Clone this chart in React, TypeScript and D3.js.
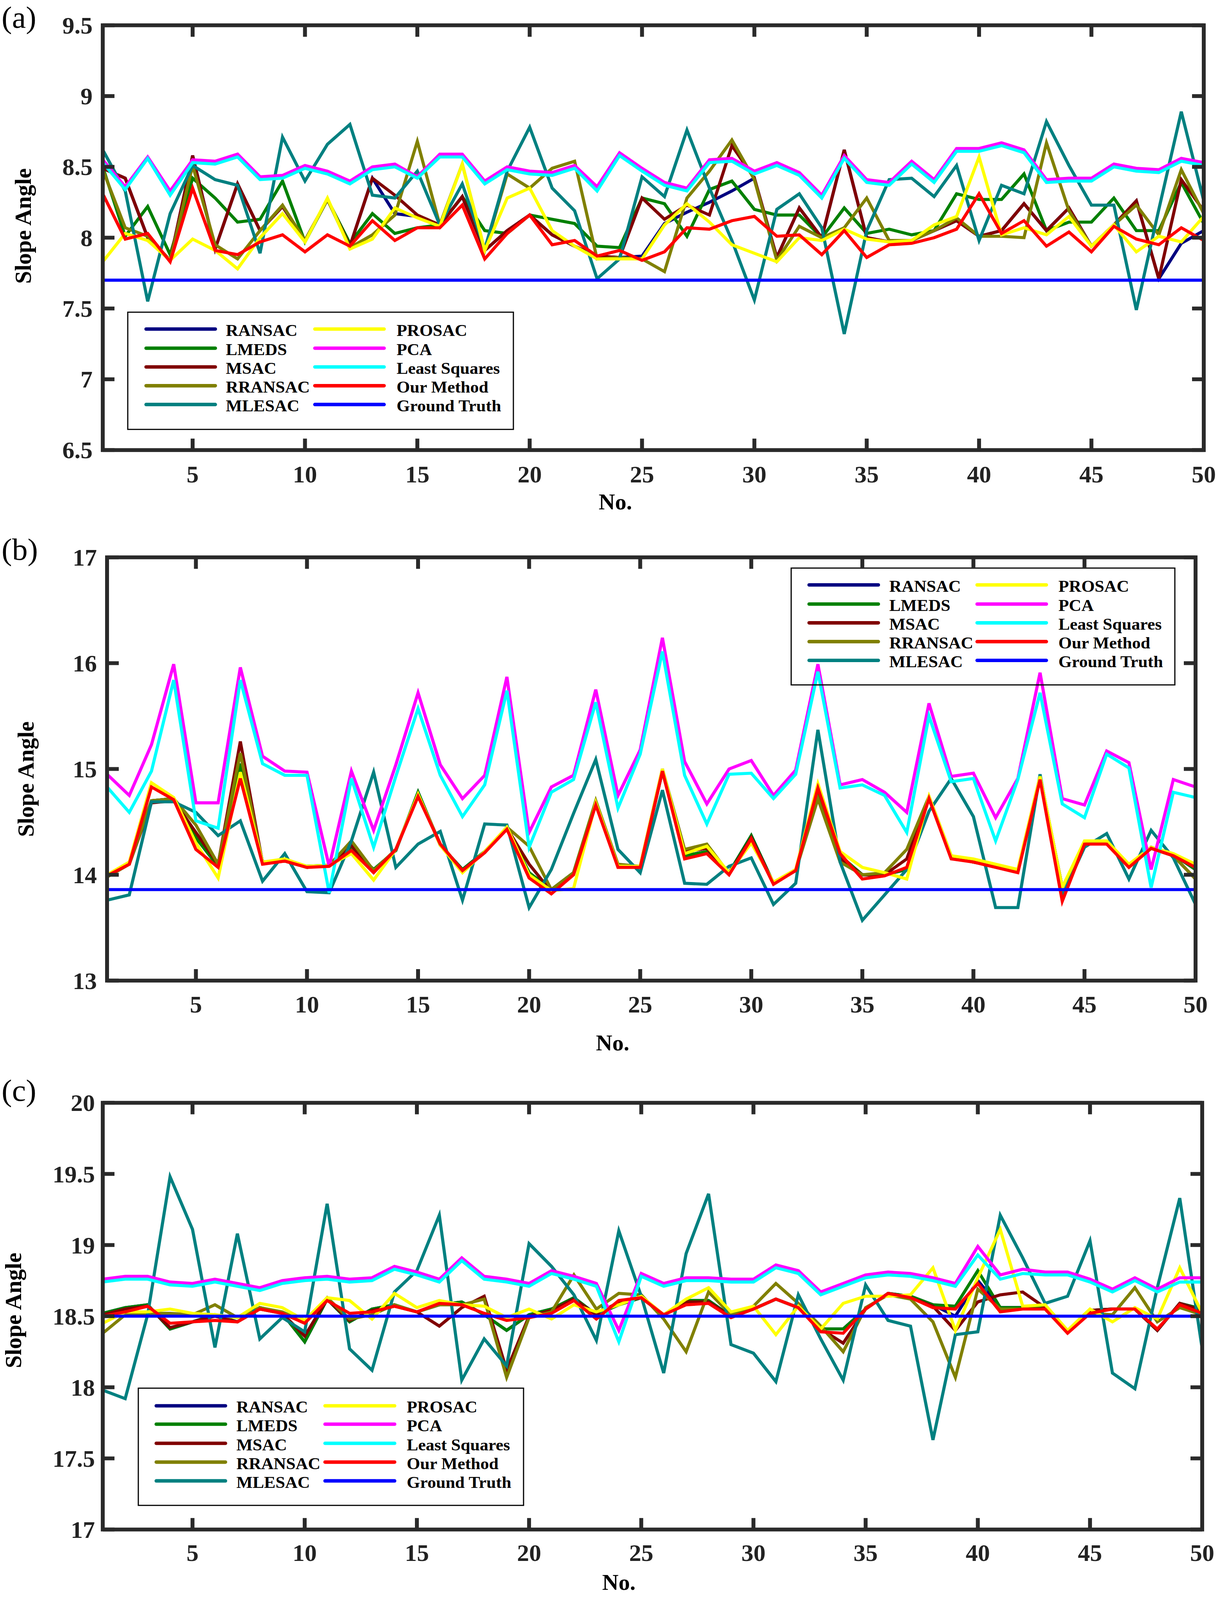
import React from "react";
import * as d3 from "d3";

// ---- shared ----
const methods = ["RANSAC", "LMEDS", "MSAC", "RRANSAC", "MLESAC", "PROSAC", "PCA", "Least Squares", "Our Method"];
const colors = ["#000080", "#008000", "#800000", "#808000", "#008080", "#ffff00", "#ff00ff", "#00ffff", "#ff0000"];
const gtLabel = "Ground Truth";
const gtColor = "#0000ff";
const xTicks = [5, 10, 15, 20, 25, 30, 35, 40, 45, 50];

// ---- panel (a) ----
const aRansac = [8.49, 8.42, 8.0, 7.84, 8.58, 7.92, 8.38, 8.05, 8.22, 7.98, 8.27, 7.94, 8.42, 8.17, 8.15, 8.09, 8.29, 7.91, 8.05, 8.16, 8.02, 7.94, 7.87, 7.86, 7.87, 8.1, 8.18, 8.25, 8.33, 8.42, 7.86, 8.21, 8.0, 8.62, 8.0, 7.97, 7.98, 8.05, 8.12, 8.01, 8.05, 8.24, 8.05, 8.21, 7.94, 8.09, 8.26, 7.71, 7.96, 8.05];
const aLmeds = [8.5, 8.01, 8.22, 7.88, 8.42, 8.28, 8.11, 8.13, 8.4, 7.97, 8.27, 7.96, 8.17, 8.03, 8.07, 8.09, 8.29, 8.05, 8.03, 8.16, 8.13, 8.1, 7.94, 7.93, 8.28, 8.24, 8.01, 8.34, 8.4, 8.2, 8.16, 8.16, 8.0, 8.21, 8.03, 8.06, 8.02, 8.05, 8.31, 8.27, 8.27, 8.45, 8.05, 8.11, 8.11, 8.28, 8.05, 8.05, 8.39, 8.1];
const aMsac = [8.49, 8.42, 8.0, 7.84, 8.58, 7.92, 8.38, 8.05, 8.22, 7.98, 8.27, 7.94, 8.42, 8.3, 8.16, 8.09, 8.29, 7.91, 8.05, 8.16, 8.02, 7.94, 7.87, 7.86, 8.28, 8.13, 8.23, 8.16, 8.65, 8.42, 7.86, 8.21, 8.0, 8.62, 8.0, 7.97, 7.98, 8.05, 8.12, 8.01, 8.05, 8.24, 8.05, 8.21, 7.94, 8.09, 8.26, 7.71, 8.41, 8.19];
const aRransac = [8.48, 8.07, 8.01, 7.84, 8.51, 7.95, 7.85, 8.05, 8.23, 7.98, 8.27, 7.93, 8.02, 8.16, 8.68, 8.09, 8.52, 7.91, 8.45, 8.35, 8.49, 8.54, 7.85, 7.86, 7.85, 7.76, 8.28, 8.47, 8.69, 8.41, 7.84, 8.08, 8.0, 8.07, 8.28, 7.98, 7.98, 8.05, 8.14, 8.01, 8.01, 8.0, 8.67, 8.19, 7.94, 8.09, 8.23, 8.02, 8.48, 8.17];
const aMlesac = [8.62, 8.33, 7.55, 8.17, 8.51, 8.41, 8.37, 7.89, 8.71, 8.4, 8.66, 8.8, 8.3, 8.28, 8.47, 8.09, 8.38, 7.92, 8.47, 8.78, 8.35, 8.19, 7.71, 7.85, 8.43, 8.29, 8.76, 8.35, 7.98, 7.56, 8.2, 8.31, 8.07, 7.32, 8.05, 8.41, 8.42, 8.29, 8.51, 7.98, 8.37, 8.31, 8.82, 8.51, 8.23, 8.23, 7.49, 8.2, 8.89, 8.26];
const aProsac = [7.83, 8.03, 7.98, 7.84, 7.99, 7.91, 7.78, 8.0, 8.17, 7.97, 8.28, 7.92, 7.99, 8.21, 8.14, 8.08, 8.52, 7.91, 8.28, 8.35, 8.05, 7.94, 7.85, 7.85, 7.85, 8.09, 8.24, 8.11, 7.95, 7.89, 7.83, 8.0, 7.98, 8.06, 7.99, 7.97, 7.98, 8.09, 8.15, 8.57, 8.02, 8.07, 8.02, 8.15, 7.94, 8.09, 7.9, 8.01, 7.97, 8.15];
const aPca = [8.55, 8.36, 8.57, 8.33, 8.55, 8.54, 8.59, 8.43, 8.44, 8.51, 8.47, 8.4, 8.5, 8.52, 8.43, 8.59, 8.59, 8.4, 8.5, 8.47, 8.46, 8.51, 8.36, 8.6, 8.49, 8.39, 8.35, 8.55, 8.56, 8.47, 8.53, 8.46, 8.3, 8.58, 8.41, 8.39, 8.54, 8.41, 8.63, 8.63, 8.67, 8.62, 8.41, 8.42, 8.42, 8.52, 8.49, 8.48, 8.56, 8.53];
const aLs = [8.53, 8.34, 8.56, 8.3, 8.53, 8.52, 8.57, 8.41, 8.42, 8.49, 8.45, 8.38, 8.48, 8.5, 8.42, 8.57, 8.57, 8.38, 8.48, 8.45, 8.44, 8.49, 8.33, 8.58, 8.47, 8.37, 8.33, 8.53, 8.54, 8.45, 8.51, 8.44, 8.28, 8.56, 8.39, 8.37, 8.52, 8.39, 8.61, 8.61, 8.65, 8.6, 8.39, 8.4, 8.4, 8.5, 8.47, 8.46, 8.54, 8.51];
const aOur = [8.31, 7.99, 8.03, 7.83, 8.35, 7.91, 7.88, 7.97, 8.02, 7.9, 8.02, 7.94, 8.12, 7.98, 8.07, 8.07, 8.23, 7.85, 8.03, 8.16, 7.95, 7.98, 7.87, 7.91, 7.84, 7.9, 8.07, 8.06, 8.12, 8.15, 8.01, 8.02, 7.88, 8.05, 7.86, 7.95, 7.96, 8.0, 8.06, 8.31, 8.03, 8.12, 7.94, 8.04, 7.9, 8.08, 7.99, 7.95, 8.07, 7.98];
const aTruth = 7.7;
const aYTicks = [6.5, 7, 7.5, 8, 8.5, 9, 9.5];

// ---- panel (b) ----
const bRansac = [13.99, 14.11, 14.7, 14.72, 14.35, 14.08, 15.05, 14.12, 14.14, 14.08, 14.09, 14.25, 14.05, 14.23, 14.78, 14.28, 14.05, 14.22, 14.44, 14.02, 13.86, 14.02, 14.69, 14.08, 14.07, 14.98, 14.18, 14.22, 14.02, 14.37, 13.92, 14.04, 14.75, 14.18, 14.0, 14.0, 14.05, 14.73, 14.17, 14.12, 14.08, 14.04, 14.92, 13.88, 14.3, 14.3, 14.08, 14.26, 14.19, 14.05];
const bLmeds = [13.99, 14.11, 14.7, 14.72, 14.35, 14.08, 15.05, 14.12, 14.14, 14.08, 14.09, 14.25, 14.05, 14.23, 14.78, 14.28, 14.05, 14.22, 14.44, 14.02, 13.86, 14.02, 14.69, 14.08, 14.07, 14.98, 14.18, 14.22, 14.02, 14.37, 13.92, 14.04, 14.75, 14.18, 14.0, 14.0, 14.05, 14.73, 14.17, 14.12, 14.08, 14.04, 14.92, 13.88, 14.3, 14.3, 14.08, 14.26, 14.19, 14.05];
const bMsac = [13.98, 14.1, 14.68, 14.7, 14.4, 14.1, 15.26, 14.11, 14.13, 14.07, 14.09, 14.28, 14.03, 14.24, 14.76, 14.29, 14.04, 14.21, 14.44, 14.1, 13.84, 14.01, 14.68, 14.08, 14.07, 14.98, 14.22, 14.25, 14.01, 14.35, 13.92, 14.04, 14.72, 14.15, 14.0, 14.0, 14.15, 14.73, 14.17, 14.12, 14.08, 14.04, 14.92, 13.88, 14.3, 14.3, 14.08, 14.25, 14.18, 13.96];
const bRransac = [13.98, 14.1, 14.7, 14.72, 14.47, 14.1, 15.15, 14.11, 14.13, 14.07, 14.09, 14.32, 14.04, 14.24, 14.76, 14.29, 14.04, 14.21, 14.45, 14.27, 13.86, 14.02, 14.7, 14.1, 14.08, 15.0, 14.24, 14.29, 14.01, 14.33, 13.92, 14.04, 14.72, 14.12, 14.0, 14.02, 14.24, 14.74, 14.18, 14.13, 14.09, 14.04, 14.93, 13.88, 14.3, 14.3, 14.08, 14.25, 14.18, 13.96];
const bMlesac = [13.76, 13.81, 14.69, 14.69, 14.59, 14.37, 14.51, 13.94, 14.2, 13.84, 13.83, 14.32, 14.97, 14.07, 14.29, 14.41, 13.76, 14.48, 14.47, 13.69, 14.05, 14.58, 15.09, 14.24, 14.02, 14.8, 13.92, 13.91, 14.08, 14.16, 13.72, 13.92, 15.37, 14.12, 13.57, 13.81, 14.05, 14.6, 14.91, 14.55, 13.69, 13.69, 14.95, 13.8, 14.26, 14.39, 13.96, 14.42, 14.16, 13.72];
const bProsac = [14.0, 14.12, 14.87, 14.73, 14.3, 13.97, 14.97, 14.12, 14.15, 14.08, 14.09, 14.2, 13.95, 14.24, 14.76, 14.28, 14.02, 14.22, 14.45, 14.0, 13.85, 13.87, 14.68, 14.08, 14.08, 15.0, 14.2, 14.27, 14.02, 14.3, 13.93, 14.05, 14.86, 14.22, 14.07, 14.02, 13.96, 14.74, 14.18, 14.15, 14.1, 14.05, 14.93, 13.88, 14.32, 14.32, 14.1, 14.26, 14.2, 14.1];
const bPca = [14.95, 14.75, 15.23, 15.99, 14.68, 14.68, 15.96, 15.12, 14.98, 14.97, 14.08, 14.98, 14.42, 15.04, 15.72, 15.04, 14.72, 14.94, 15.87, 14.4, 14.83, 14.94, 15.75, 14.75, 15.18, 16.24, 15.07, 14.67, 15.0, 15.08, 14.75, 14.99, 15.99, 14.85, 14.9, 14.78, 14.59, 15.62, 14.93, 14.96, 14.54, 14.91, 15.91, 14.72, 14.66, 15.17, 15.06, 14.05, 14.9, 14.83];
const bLs = [14.83, 14.59, 14.98, 15.84, 14.51, 14.44, 15.84, 15.05, 14.94, 14.94, 13.83, 14.91, 14.26, 14.93, 15.57, 14.94, 14.55, 14.85, 15.74, 14.26, 14.78, 14.9, 15.63, 14.63, 15.14, 16.11, 14.94, 14.48, 14.95, 14.96, 14.72, 14.95, 15.92, 14.82, 14.85, 14.75, 14.4, 15.5, 14.88, 14.91, 14.32, 14.9, 15.72, 14.67, 14.54, 15.14, 15.01, 13.88, 14.78, 14.73];
const bOur = [13.99, 14.1, 14.83, 14.71, 14.24, 14.07, 14.91, 14.1, 14.13, 14.07, 14.08, 14.23, 14.02, 14.24, 14.74, 14.29, 14.04, 14.21, 14.43, 13.97, 13.82, 14.0, 14.66, 14.07, 14.07, 14.98, 14.15, 14.2, 14.0, 14.34, 13.91, 14.04, 14.82, 14.2, 13.96, 13.99, 14.07, 14.72, 14.15, 14.12, 14.07, 14.02, 14.9, 13.75, 14.29, 14.29, 14.07, 14.25, 14.18, 14.07];
const bTruth = 13.86;
const bYTicks = [13, 14, 15, 16, 17];

// ---- panel (c) ----
const cRansac = [18.52, 18.56, 18.58, 18.41, 18.46, 18.51, 18.46, 18.56, 18.52, 18.32, 18.62, 18.46, 18.55, 18.58, 18.53, 18.58, 18.6, 18.51, 18.4, 18.51, 18.55, 18.63, 18.51, 18.58, 18.63, 18.51, 18.61, 18.61, 18.5, 18.55, 18.62, 18.56, 18.41, 18.41, 18.55, 18.66, 18.64, 18.58, 18.5, 18.75, 18.56, 18.56, 18.56, 18.39, 18.54, 18.55, 18.55, 18.4, 18.59, 18.55];
const cLmeds = [18.52, 18.56, 18.58, 18.41, 18.46, 18.51, 18.46, 18.56, 18.52, 18.32, 18.62, 18.46, 18.55, 18.58, 18.53, 18.58, 18.6, 18.51, 18.4, 18.51, 18.55, 18.63, 18.51, 18.58, 18.63, 18.51, 18.61, 18.61, 18.5, 18.55, 18.62, 18.56, 18.41, 18.41, 18.55, 18.66, 18.64, 18.58, 18.57, 18.82, 18.56, 18.56, 18.56, 18.39, 18.54, 18.55, 18.55, 18.4, 18.59, 18.55];
const cMsac = [18.51, 18.55, 18.57, 18.42, 18.46, 18.5, 18.46, 18.55, 18.52, 18.36, 18.62, 18.47, 18.54, 18.57, 18.53, 18.43, 18.56, 18.64, 18.12, 18.5, 18.54, 18.62, 18.51, 18.6, 18.63, 18.51, 18.6, 18.6, 18.5, 18.55, 18.62, 18.56, 18.41, 18.31, 18.55, 18.66, 18.63, 18.57, 18.4, 18.6, 18.65, 18.67, 18.56, 18.39, 18.54, 18.55, 18.55, 18.4, 18.59, 18.54];
const cRransac = [18.38, 18.51, 18.52, 18.52, 18.51, 18.58, 18.49, 18.56, 18.53, 18.46, 18.63, 18.48, 18.51, 18.58, 18.53, 18.58, 18.58, 18.62, 18.07, 18.49, 18.53, 18.79, 18.55, 18.66, 18.65, 18.48, 18.25, 18.67, 18.51, 18.57, 18.73, 18.59, 18.43, 18.25, 18.56, 18.65, 18.62, 18.46, 18.07, 18.69, 18.55, 18.55, 18.55, 18.39, 18.52, 18.51, 18.7, 18.46, 18.56, 18.51];
const cMlesac = [17.98, 17.92, 18.51, 19.48, 19.11, 18.28, 19.08, 18.34, 18.49, 18.39, 19.29, 18.27, 18.12, 18.67, 18.82, 19.21, 18.05, 18.34, 18.15, 19.01, 18.85, 18.65, 18.33, 19.1, 18.64, 18.1, 18.94, 19.36, 18.3, 18.24, 18.04, 18.65, 18.34, 18.05, 18.72, 18.47, 18.43, 17.63, 18.37, 18.39, 19.21, 18.91, 18.59, 18.64, 19.03, 18.1, 17.99, 18.7, 19.33, 18.27];
const cProsac = [18.45, 18.53, 18.53, 18.55, 18.52, 18.51, 18.49, 18.59, 18.56, 18.47, 18.63, 18.61, 18.48, 18.66, 18.56, 18.61, 18.58, 18.57, 18.49, 18.55, 18.48, 18.58, 18.53, 18.58, 18.64, 18.51, 18.62, 18.7, 18.53, 18.57, 18.37, 18.57, 18.41, 18.59, 18.64, 18.64, 18.65, 18.84, 18.4, 18.77, 19.11, 18.57, 18.58, 18.4, 18.55, 18.46, 18.56, 18.48, 18.84, 18.52];
const cPca = [18.76, 18.78, 18.78, 18.74, 18.73, 18.76, 18.73, 18.7, 18.75, 18.77, 18.78, 18.76, 18.77, 18.85, 18.81, 18.76, 18.91, 18.78, 18.76, 18.73, 18.82, 18.78, 18.73, 18.4, 18.8, 18.73, 18.77, 18.77, 18.76, 18.76, 18.86, 18.82, 18.67, 18.73, 18.79, 18.81, 18.8, 18.77, 18.73, 18.99, 18.79, 18.83, 18.81, 18.81, 18.76, 18.69, 18.77, 18.69, 18.77, 18.77];
const cLs = [18.74, 18.76, 18.76, 18.72, 18.71, 18.74, 18.71, 18.68, 18.73, 18.75, 18.76, 18.74, 18.75, 18.83, 18.79, 18.74, 18.89, 18.76, 18.74, 18.71, 18.8, 18.76, 18.71, 18.32, 18.78, 18.71, 18.75, 18.75, 18.74, 18.74, 18.84, 18.8, 18.65, 18.71, 18.77, 18.79, 18.78, 18.75, 18.71, 18.93, 18.76, 18.8, 18.79, 18.79, 18.74, 18.67, 18.75, 18.67, 18.74, 18.74];
const cOur = [18.5, 18.53, 18.57, 18.45, 18.46, 18.47, 18.46, 18.55, 18.52, 18.45, 18.61, 18.52, 18.53, 18.57, 18.53, 18.59, 18.58, 18.52, 18.47, 18.49, 18.52, 18.61, 18.48, 18.61, 18.63, 18.51, 18.58, 18.59, 18.49, 18.55, 18.62, 18.56, 18.39, 18.38, 18.55, 18.66, 18.63, 18.56, 18.55, 18.73, 18.53, 18.55, 18.55, 18.38, 18.52, 18.55, 18.55, 18.41, 18.58, 18.52];
const cTruth = 18.5;
const cYTicks = [17, 17.5, 18, 18.5, 19, 19.5, 20];

// layout per panel (pixel geometry of the reference)
const panels = [
  {
    id: "a", tag: "(a)", tagY: 72,
    box: { left: 263, right: 3081, top: 66, bottom: 1175 },
    yDomain: [6.5, 9.5], yTicks: aYTicks, yLabelRight: 237,
    xLabelBase: 1259, noPos: [1575, 1330], slopePos: [58, 590],
    series: [aRansac, aLmeds, aMsac, aRransac, aMlesac, aProsac, aPca, aLs, aOur], truth: aTruth,
    legend: { x: 327, y: 815, w: 987, h: 306, rows: [863, 913, 962, 1011, 1060], c1: [374, 551, 578], c2: [806, 983, 1015] },
  },
  {
    id: "b", tag: "(b)", tagY: 1461,
    box: { left: 274, right: 3060, top: 1455, bottom: 2560 },
    yDomain: [13, 17], yTicks: bYTicks, yLabelRight: 248,
    xLabelBase: 2643, noPos: [1568, 2742], slopePos: [65, 2034],
    series: [bRansac, bLmeds, bMsac, bRransac, bMlesac, bProsac, bPca, bLs, bOur], truth: bTruth,
    legend: { x: 2025, y: 1483, w: 982, h: 305, rows: [1531, 1581, 1630, 1679, 1728], c1: [2071, 2248, 2276], c2: [2501, 2678, 2709] },
  },
  {
    id: "c", tag: "(c)", tagY: 2874,
    box: { left: 263, right: 3077, top: 2879, bottom: 3993 },
    yDomain: [17, 20], yTicks: cYTicks, yLabelRight: 243,
    xLabelBase: 4075, noPos: [1584, 4150], slopePos: [33, 3421],
    series: [cRansac, cLmeds, cMsac, cRransac, cMlesac, cProsac, cPca, cLs, cOur], truth: cTruth,
    legend: { x: 354, y: 3624, w: 986, h: 306, rows: [3674, 3722, 3772, 3821, 3870], c1: [400, 577, 605], c2: [832, 1010, 1041] },
  },
];

const font = "'Liberation Serif', 'Times New Roman', serif";
const axisColor = "#2a2a2a";

function Panel({ p }: { p: (typeof panels)[number] }) {
  const { left, right, top, bottom } = p.box;
  const x = d3.scaleLinear().domain([1, 50]).range([left, right]);
  const y = d3.scaleLinear().domain(p.yDomain).range([bottom, top]);
  const line = d3
    .line<number>()
    .x((_, i) => x(i + 1))
    .y((d) => y(d));
  const tickLen = 30;
  const lg = p.legend;
  const legendItems = [...methods.map((m, i) => ({ name: m, color: colors[i] })), { name: gtLabel, color: gtColor }];

  return (
    <g>
      <text x={4} y={p.tagY} fontFamily={font} fontSize={80}>
        {p.tag}
      </text>
      <clipPath id={`clip-${p.id}`}>
        <rect x={left} y={top} width={right - left} height={bottom - top} />
      </clipPath>
      <g clipPath={`url(#clip-${p.id})`}>
        {p.series.map((s, i) => (
          <path key={i} d={line(s) ?? ""} fill="none" stroke={colors[i]} strokeWidth={8} strokeLinejoin="miter" />
        ))}
        <line x1={x(1)} x2={x(50)} y1={y(p.truth)} y2={y(p.truth)} stroke={gtColor} strokeWidth={8} />
      </g>

      {/* legend: transparent box, drawn over the data */}
      <rect x={lg.x} y={lg.y} width={lg.w} height={lg.h} fill="none" stroke="#000" strokeWidth={3} />
      {legendItems.map((it, i) => {
        const col = i < 5 ? lg.c1 : lg.c2;
        const cy = lg.rows[i % 5];
        return (
          <g key={it.name}>
            <line x1={col[0]} x2={col[1]} y1={cy - 4} y2={cy - 4} stroke={it.color} strokeWidth={9} strokeLinecap="round" />
            <text x={col[2]} y={cy + 14} fontFamily={font} fontWeight="bold" fontSize={44} fill="#000">
              {it.name}
            </text>
          </g>
        );
      })}

      {/* frame and ticks */}
      {xTicks.map((t) => (
        <g key={`xt${t}`}>
          <line x1={x(t)} x2={x(t)} y1={bottom} y2={bottom - tickLen} stroke={axisColor} strokeWidth={10} />
          <line x1={x(t)} x2={x(t)} y1={top} y2={top + tickLen} stroke={axisColor} strokeWidth={10} />
          <text x={x(t)} y={p.xLabelBase} textAnchor="middle" fontFamily={font} fontWeight="bold" fontSize={62} fill="#222">
            {t}
          </text>
        </g>
      ))}
      {p.yTicks.map((t) => (
        <g key={`yt${t}`}>
          <line x1={left} x2={left + tickLen} y1={y(t)} y2={y(t)} stroke={axisColor} strokeWidth={10} />
          <line x1={right} x2={right - tickLen} y1={y(t)} y2={y(t)} stroke={axisColor} strokeWidth={10} />
          <text x={p.yLabelRight} y={y(t)} dy="0.35em" textAnchor="end" fontFamily={font} fontWeight="bold" fontSize={62} fill="#222">
            {String(t)}
          </text>
        </g>
      ))}
      <rect x={left} y={top} width={right - left} height={bottom - top} fill="none" stroke={axisColor} strokeWidth={10} />

      <text x={p.noPos[0]} y={p.noPos[1]} textAnchor="middle" fontFamily={font} fontWeight="bold" fontSize={58} fill="#000">
        No.
      </text>
      <text
        transform={`translate(${p.slopePos[0]},${p.slopePos[1]}) rotate(-90)`}
        textAnchor="middle"
        dy="0.35em"
        fontFamily={font}
        fontWeight="bold"
        fontSize={60}
        fill="#000"
      >
        Slope Angle
      </text>
    </g>
  );
}

export default function App() {
  // fill the visible viewport so the bottom axis title is not pushed below the fold
  return (
    <svg
      viewBox="0 0 3120 4177"
      preserveAspectRatio="none"
      style={{ position: "fixed", left: 0, top: 0, width: "100vw", height: "100vh", background: "#fff" }}
    >
      <rect width={3120} height={4177} fill="#fff" />
      {panels.map((p) => (
        <Panel key={p.id} p={p} />
      ))}
    </svg>
  );
}
